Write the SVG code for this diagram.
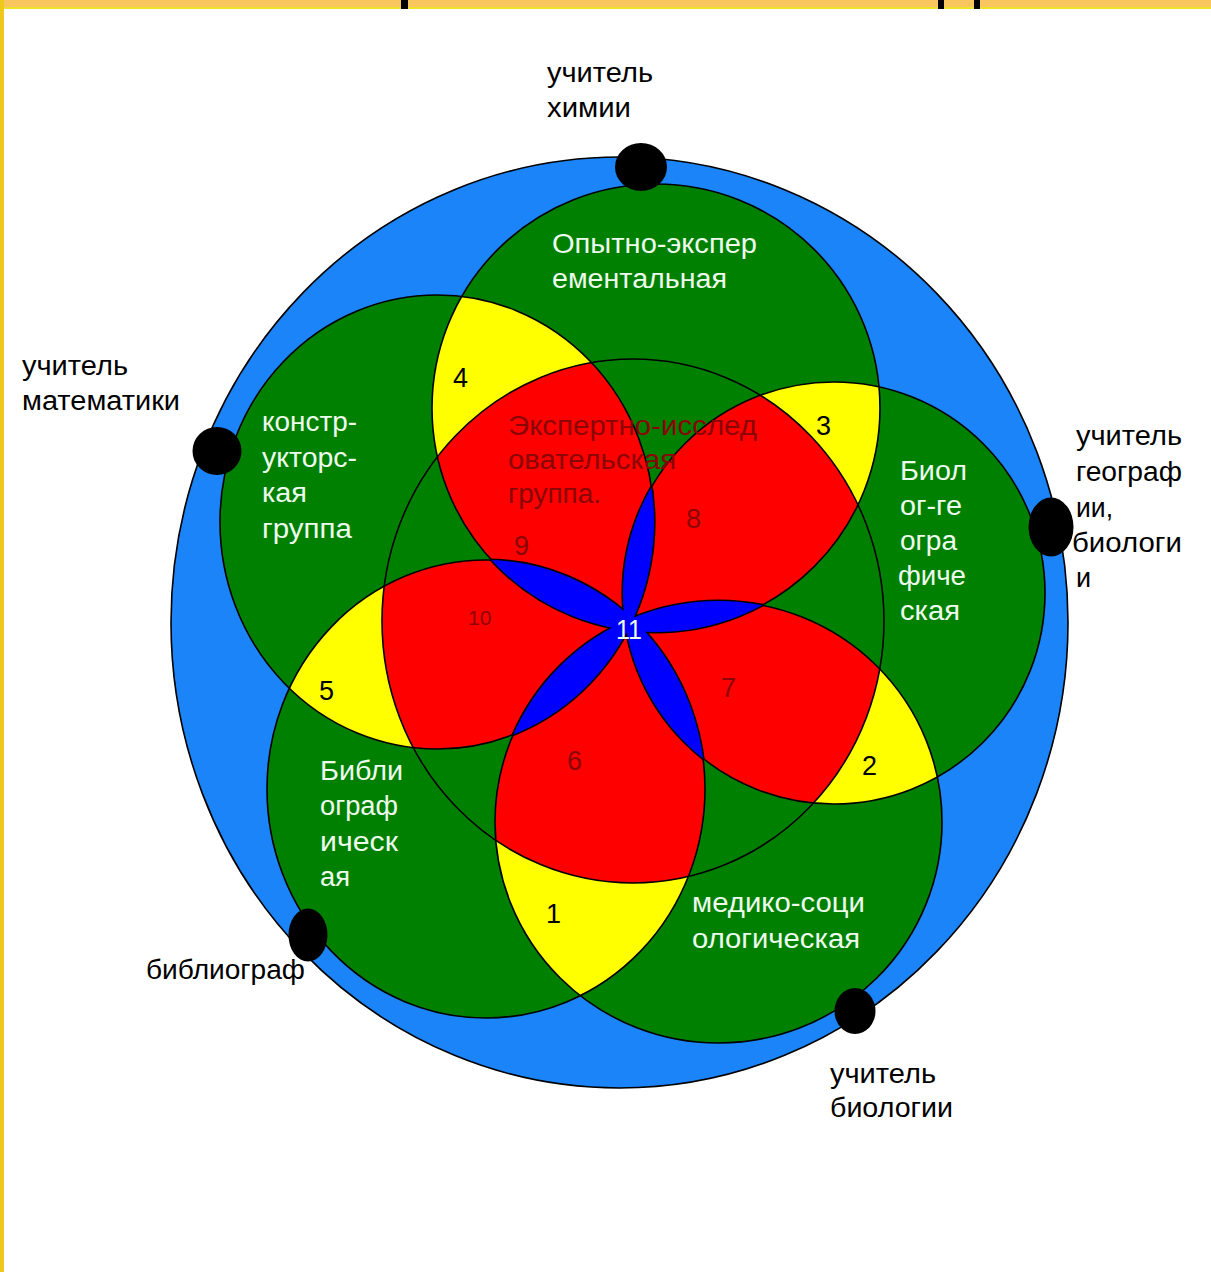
<svg xmlns="http://www.w3.org/2000/svg" xmlns:xlink="http://www.w3.org/1999/xlink" width="1211" height="1272" viewBox="0 0 1211 1272">
<style>
.ln{fill:none;stroke:#000;stroke-width:1.6}
.gr{fill:#008000}
.ye{fill:#ffff00}
.rd{fill:#ff0000}
.bl{fill:#0000ff}
.pst{fill:none;stroke:#000;stroke-width:3.2}
text{font-family:"Liberation Sans",Arial,sans-serif;font-size:27px}
.k{fill:#000}
.w{fill:#eefcee}
.dr{fill:#8a0505}
</style>
<defs>
<circle id="T" cx="656" cy="408" r="224"/>
<ellipse id="L" cx="437" cy="522" rx="217" ry="227"/>
<circle id="R" cx="834" cy="593" r="211"/>
<ellipse id="BR" cx="718.5" cy="822" rx="223.5" ry="221"/>
<ellipse id="BL" cx="486" cy="789" rx="219" ry="229"/>
<ellipse id="M" cx="633" cy="621" rx="251" ry="262"/>
<clipPath id="cT"><use xlink:href="#T"/></clipPath>
<clipPath id="cL"><use xlink:href="#L"/></clipPath>
<clipPath id="cR"><use xlink:href="#R"/></clipPath>
<clipPath id="cBR"><use xlink:href="#BR"/></clipPath>
<clipPath id="cBL"><use xlink:href="#BL"/></clipPath>
<clipPath id="cM"><use xlink:href="#M"/></clipPath>
</defs>
<rect width="1211" height="1272" fill="#fff"/>
<rect x="0" y="0" width="1211" height="7" fill="#f9c55e"/>
<rect x="0" y="7" width="1211" height="2" fill="#efe22a"/>
<rect x="0" y="0" width="4" height="1272" fill="#efc81e"/>
<rect x="401" y="0" width="7" height="9" fill="#000"/>
<rect x="938" y="0" width="6" height="9" fill="#000"/>
<rect x="974" y="0" width="6" height="9" fill="#000"/>

<g id="outer">
<ellipse cx="619.5" cy="622.5" rx="448.5" ry="465.5" fill="#1a84f8" stroke="#000" stroke-width="1.6"/>
</g>

<g id="green-circles">
<use xlink:href="#T" class="gr"/>
<use xlink:href="#L" class="gr"/>
<use xlink:href="#R" class="gr"/>
<use xlink:href="#BR" class="gr"/>
<use xlink:href="#BL" class="gr"/>
</g>

<g id="yellow-zones">
<g clip-path="url(#cL)"><use xlink:href="#T" class="ye"/></g>
<g clip-path="url(#cR)"><use xlink:href="#T" class="ye"/></g>
<g clip-path="url(#cBR)"><use xlink:href="#R" class="ye"/></g>
<g clip-path="url(#cBL)"><use xlink:href="#BR" class="ye"/></g>
<g clip-path="url(#cL)"><use xlink:href="#BL" class="ye"/></g>
</g>

<g id="red-zones" clip-path="url(#cM)">
<g clip-path="url(#cL)"><use xlink:href="#T" class="rd"/></g>
<g clip-path="url(#cR)"><use xlink:href="#T" class="rd"/></g>
<g clip-path="url(#cBR)"><use xlink:href="#R" class="rd"/></g>
<g clip-path="url(#cBL)"><use xlink:href="#BR" class="rd"/></g>
<g clip-path="url(#cL)"><use xlink:href="#BL" class="rd"/></g>
</g>

<g id="outlines">
<use xlink:href="#T" class="ln"/>
<use xlink:href="#L" class="ln"/>
<use xlink:href="#R" class="ln"/>
<use xlink:href="#BR" class="ln"/>
<use xlink:href="#BL" class="ln"/>
<use xlink:href="#M" class="ln" stroke-width="1.3"/>
</g>

<g id="petal-edges">
<g clip-path="url(#cBL)"><use xlink:href="#T" class="pst"/></g>
<g clip-path="url(#cT)"><use xlink:href="#BL" class="pst"/></g>
<g clip-path="url(#cBR)"><use xlink:href="#T" class="pst"/></g>
<g clip-path="url(#cT)"><use xlink:href="#BR" class="pst"/></g>
<g clip-path="url(#cR)"><use xlink:href="#L" class="pst"/></g>
<g clip-path="url(#cL)"><use xlink:href="#R" class="pst"/></g>
<g clip-path="url(#cBR)"><use xlink:href="#L" class="pst"/></g>
<g clip-path="url(#cL)"><use xlink:href="#BR" class="pst"/></g>
<g clip-path="url(#cBL)"><use xlink:href="#R" class="pst"/></g>
<g clip-path="url(#cR)"><use xlink:href="#BL" class="pst"/></g>
</g>
<g id="petals">
<g clip-path="url(#cBL)"><use xlink:href="#T" class="bl"/></g>
<g clip-path="url(#cBR)"><use xlink:href="#T" class="bl"/></g>
<g clip-path="url(#cR)"><use xlink:href="#L" class="bl"/></g>
<g clip-path="url(#cBR)"><use xlink:href="#L" class="bl"/></g>
<g clip-path="url(#cBL)"><use xlink:href="#R" class="bl"/></g>
</g>

<g id="dots" fill="#000">
<ellipse cx="641" cy="167" rx="26" ry="24"/>
<ellipse cx="217" cy="451" rx="24.5" ry="24"/>
<ellipse cx="1051" cy="527" rx="22.5" ry="29.5"/>
<ellipse cx="308" cy="935" rx="19.5" ry="26.5"/>
<ellipse cx="855" cy="1011" rx="20.5" ry="23"/>
</g>

<g id="zone-labels">
<text class="w" x="552" y="253" textLength="205" lengthAdjust="spacingAndGlyphs">Опытно-экспер</text>
<text class="w" x="552" y="288" textLength="175" lengthAdjust="spacingAndGlyphs">ементальная</text>
<text class="w" x="262" y="431" textLength="95" lengthAdjust="spacingAndGlyphs">констр-</text>
<text class="w" x="262" y="467" textLength="95" lengthAdjust="spacingAndGlyphs">укторс-</text>
<text class="w" x="262" y="502" textLength="45" lengthAdjust="spacingAndGlyphs">кая</text>
<text class="w" x="262" y="538" textLength="90" lengthAdjust="spacingAndGlyphs">группа</text>
<text class="w" x="900" y="480" textLength="67" lengthAdjust="spacingAndGlyphs">Биол</text>
<text class="w" x="900" y="515" textLength="62" lengthAdjust="spacingAndGlyphs">ог-ге</text>
<text class="w" x="900" y="550" textLength="57" lengthAdjust="spacingAndGlyphs">огра</text>
<text class="w" x="898" y="585" textLength="68" lengthAdjust="spacingAndGlyphs">фиче</text>
<text class="w" x="900" y="620" textLength="60" lengthAdjust="spacingAndGlyphs">ская</text>
<text class="w" x="320" y="780" textLength="83" lengthAdjust="spacingAndGlyphs">Библи</text>
<text class="w" x="320" y="815" textLength="78" lengthAdjust="spacingAndGlyphs">ограф</text>
<text class="w" x="320" y="851" textLength="78" lengthAdjust="spacingAndGlyphs">ическ</text>
<text class="w" x="320" y="886" textLength="30" lengthAdjust="spacingAndGlyphs">ая</text>
<text class="w" x="692" y="912" textLength="173" lengthAdjust="spacingAndGlyphs">медико-соци</text>
<text class="w" x="692" y="948" textLength="168" lengthAdjust="spacingAndGlyphs">ологическая</text>
<text class="dr" x="508" y="435" textLength="249" lengthAdjust="spacingAndGlyphs">Экспертно-исслед</text>
<text class="dr" x="508" y="469" textLength="168" lengthAdjust="spacingAndGlyphs">овательская</text>
<text class="dr" x="508" y="503" textLength="93" lengthAdjust="spacingAndGlyphs">группа.</text>
</g>

<g id="numbers">
<text class="k" x="453" y="387">4</text>
<text class="k" x="816" y="435">3</text>
<text class="dr" x="686" y="528">8</text>
<text class="dr" x="514" y="555">9</text>
<text class="dr" x="468" y="625" style="font-size:21px">10</text>
<text class="w" x="616" y="639" textLength="26" lengthAdjust="spacingAndGlyphs">11</text>
<text class="dr" x="721" y="697">7</text>
<text class="dr" x="567" y="770">6</text>
<text class="k" x="862" y="775">2</text>
<text class="k" x="546" y="923">1</text>
<text class="k" x="319" y="700">5</text>
</g>

<g id="people">
<text class="k" x="547" y="82" textLength="106" lengthAdjust="spacingAndGlyphs">учитель</text>
<text class="k" x="547" y="117" textLength="84" lengthAdjust="spacingAndGlyphs">химии</text>
<text class="k" x="22" y="375" textLength="106" lengthAdjust="spacingAndGlyphs">учитель</text>
<text class="k" x="22" y="410" textLength="158" lengthAdjust="spacingAndGlyphs">математики</text>
<text class="k" x="1076" y="445" textLength="106" lengthAdjust="spacingAndGlyphs">учитель</text>
<text class="k" x="1076" y="481" textLength="106" lengthAdjust="spacingAndGlyphs">географ</text>
<text class="k" x="1076" y="517" textLength="37" lengthAdjust="spacingAndGlyphs">ии,</text>
<text class="k" x="1072" y="552" textLength="110" lengthAdjust="spacingAndGlyphs">биологи</text>
<text class="k" x="1076" y="587">и</text>
<text class="k" x="146" y="979" textLength="159" lengthAdjust="spacingAndGlyphs">библиограф</text>
<text class="k" x="830" y="1083" textLength="106" lengthAdjust="spacingAndGlyphs">учитель</text>
<text class="k" x="830" y="1117" textLength="123" lengthAdjust="spacingAndGlyphs">биологии</text>
</g>
</svg>
